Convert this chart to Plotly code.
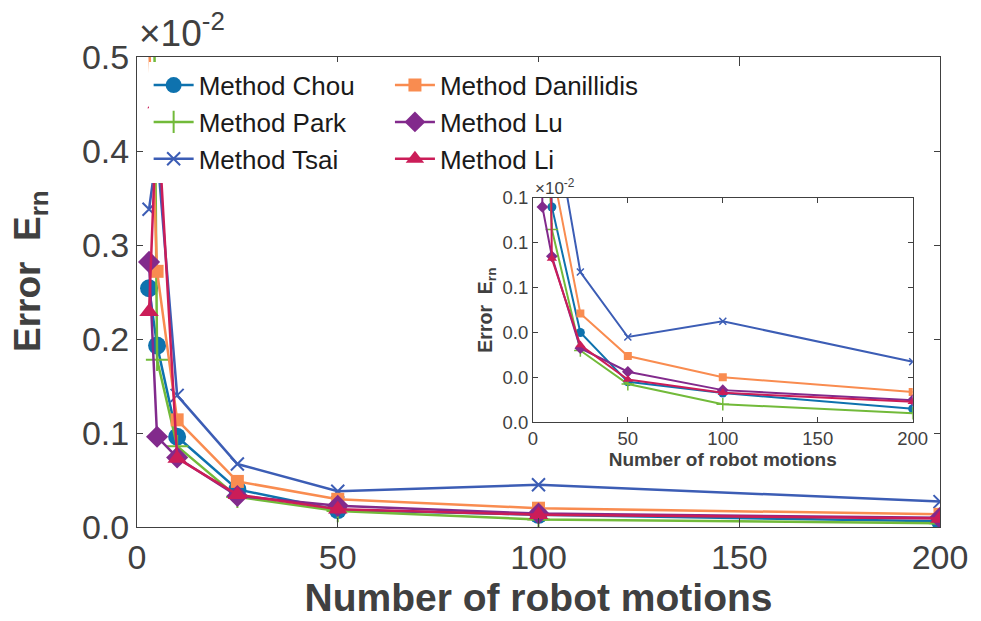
import plotly.graph_objects as go

# Number of robot motions
motions = [3, 5, 10, 25, 50, 100, 200]

# Error values (x 1e-2)
err_chou = [0.254, 0.193, 0.096, 0.040, 0.018, 0.013, 0.006]
err_park = [1.20, 0.178, 0.086, 0.032, 0.017, 0.008, 0.004]
err_tsai = [0.338, 0.40, 0.140, 0.067, 0.038, 0.045, 0.027]
err_dan = [0.52, 0.272, 0.114, 0.0485, 0.0295, 0.020, 0.0135]
err_lu = [0.282, 0.096, 0.074, 0.033, 0.0225, 0.0143, 0.0098]
err_li = [0.229, 0.45, 0.073, 0.0344, 0.019, 0.0131, 0.0091]

names = ["Method Chou", "Method Park", "Method Tsai",
         "Method Danillidis", "Method Lu", "Method Li"]
series = [err_chou, err_park, err_tsai, err_dan, err_lu, err_li]
colors = ["#0E72AE", "#72BA3A", "#3C5DB5", "#F98C50", "#822A8C", "#CB1D58"]
symbols = ["circle", "cross-thin", "x-thin", "square", "diamond", "triangle-up"]
main_sizes = [18, 16, 13, 13, 17, 17]
inset_sizes = [9, 9, 7, 8, 9, 9]
legends = ["legend", "legend", "legend", "legend2", "legend2", "legend2"]

FONT = "Liberation Sans, Arial, sans-serif"
AX = "#404040"

fig = go.Figure()

for nm, ys, c, s, ms, lg in zip(names, series, colors, symbols, main_sizes, legends):
    thin = s.endswith("thin")
    fig.add_trace(go.Scatter(
        x=motions, y=ys, name=nm, mode="lines+markers", legend=lg,
        line=dict(color=c, width=2.5),
        marker=dict(symbol=s, size=ms, color=c,
                    line=dict(color=c, width=2 if thin else 0)),
        cliponaxis=True, xaxis="x", yaxis="y"))

for nm, ys, c, s, ms in zip(names, series, colors, symbols, inset_sizes):
    thin = s.endswith("thin")
    fig.add_trace(go.Scatter(
        x=motions, y=ys, name=nm, mode="lines+markers", showlegend=False,
        line=dict(color=c, width=2),
        marker=dict(symbol=s, size=ms, color=c,
                    line=dict(color=c, width=1.5 if thin else 0)),
        cliponaxis=True, xaxis="x2", yaxis="y2"))

axis_common = dict(showline=True, linecolor=AX, linewidth=1, mirror="allticks",
                   ticks="inside", tickcolor=AX, showgrid=False, zeroline=False)

fig.update_layout(
    width=981, height=621,
    margin=dict(l=129, r=49, t=49, b=102),
    paper_bgcolor="white", plot_bgcolor="white",
    font=dict(family=FONT, color=AX),
    xaxis=dict(domain=[0, 1], range=[0, 200], tickvals=[0, 50, 100, 150, 200],
               ticklen=9, tickfont=dict(size=34, color=AX),
               title=dict(text="<b>Number of robot motions</b>",
                          font=dict(size=39, color=AX), standoff=4),
               anchor="y", **axis_common),
    yaxis=dict(domain=[0, 1], range=[0, 0.5], tickvals=[0, 0.1, 0.2, 0.3, 0.4, 0.5],
               tickformat=".1f", ticklen=6, tickfont=dict(size=34, color=AX),
               anchor="x", **axis_common),
    xaxis2=dict(domain=[0.493, 0.966], range=[0, 200], tickvals=[0, 50, 100, 150, 200],
                ticklen=5, tickfont=dict(size=18.5, color=AX),
                title=dict(text="<b>Number of robot motions</b>",
                           font=dict(size=19, color=AX), standoff=2),
                anchor="y2", **axis_common),
    yaxis2=dict(domain=[0.223, 0.70], range=[0, 0.1],
                tickvals=[0, 0.02, 0.04, 0.06, 0.08, 0.1],
                tickformat=".1f", ticklen=5, tickfont=dict(size=18.5, color=AX),
                title=dict(text="<b>Error&nbsp; E<sub>rn</sub></b>",
                           font=dict(size=19.5, color=AX), standoff=4),
                anchor="x2", **axis_common),
    legend=dict(x=0.0145, y=0.99, xanchor="left", yanchor="top",
                bgcolor="white", borderwidth=0, tracegroupgap=0,
                font=dict(size=26, color="#1a1a1a", family=FONT),
                itemwidth=40),
    legend2=dict(x=0.315, y=0.99, xanchor="left", yanchor="top",
                 bgcolor="white", borderwidth=0, tracegroupgap=0,
                 font=dict(size=26, color="#1a1a1a", family=FONT),
                 itemwidth=40),
    annotations=[
        dict(text="<b>Error&nbsp; E<sub>rn</sub></b>", xref="paper", yref="paper",
             x=-0.133, y=0.545, xanchor="center", yanchor="middle", textangle=-90,
             showarrow=False, font=dict(size=37, color=AX, family=FONT)),
        dict(text="×10<sup>-2</sup>", xref="paper", yref="paper",
             x=0.0, y=1.0, xanchor="left", yanchor="bottom", yshift=1,
             showarrow=False, font=dict(size=37, color=AX, family=FONT)),
        dict(text="×10<sup>-2</sup>", xref="paper", yref="paper",
             x=0.493, y=0.70, xanchor="left", yanchor="bottom", yshift=-2,
             showarrow=False, font=dict(size=17, color=AX, family=FONT)),
    ],
)

fig.write_html("out.html")
